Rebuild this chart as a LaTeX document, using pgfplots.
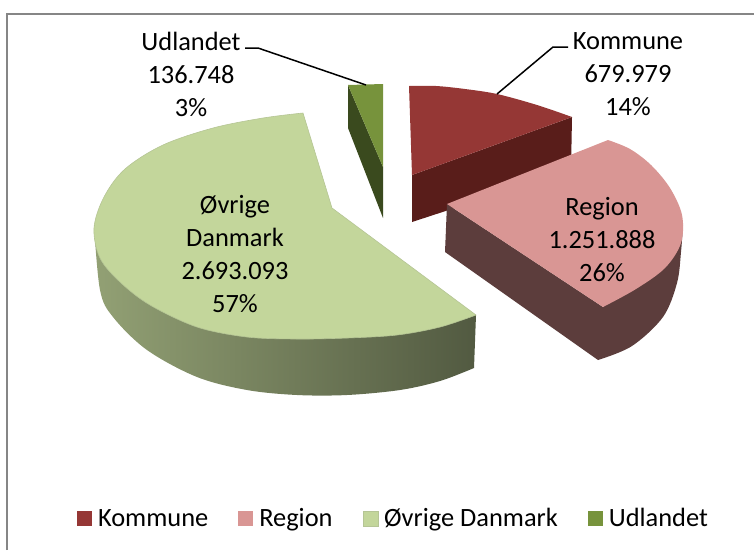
\documentclass[border=0pt]{standalone}
\usepackage{pgfplots}
\pgfplotsset{compat=1.18}
\usepackage{fontspec}
\setmainfont{Carlito}
\definecolor{kommune}{HTML}{953735}
\definecolor{kommuneside}{HTML}{591D1A}
\definecolor{region}{HTML}{D99694}
\definecolor{regionside}{HTML}{5C3D3C}
\definecolor{ovrige}{HTML}{C3D69B}
\definecolor{udland}{HTML}{77933C}
\definecolor{udlandside}{HTML}{3A4A1E}
\definecolor{frame}{HTML}{868686}
\begin{document}
\begin{tikzpicture}
\useasboundingbox (0,0) rectangle (754pt,550pt);
\begin{axis}[
  at={(0,0)}, anchor=south west,
  width=754pt, height=550pt, scale only axis,
  xmin=0, xmax=754, ymin=0, ymax=550,
  y dir=reverse,
  hide axis,
  clip=false,
  legend columns=-1,
  legend style={
    at={(axis cs:395.5,520)}, anchor=center,
    draw=none, fill=none,
    font=\fontsize{26.4}{30}\selectfont,
    inner sep=0pt,
    /tikz/every even column/.append style={column sep=24pt},
    nodes={inner xsep=6pt, text height=18pt, text depth=6pt},
  },
  legend image code/.code={
    \fill[#1] (0pt,-6pt) rectangle (15pt,9pt);
  },
  every axis plot/.append style={draw=none, tension=0.55},
]
% Kommune
\addplot[forget plot, fill=kommuneside] coordinates {
  (412,175) (572,117) (571,170) (412,222) (412,175)};
\addplot[smooth, fill=kommune] coordinates {
  (409,86) (436,86) (465,89) (497,94) (537,105) (572,117)} -- (axis cs:412,175) -- cycle;
% Region
\addplot[smooth, forget plot, fill=regionside] coordinates {
  (683,225) (681,252) (677,283) (663,317) (632,346) (598,360)}
  -- (axis cs:445,252) -- (axis cs:447,204) -- (axis cs:603,307) -- cycle;
\addplot[smooth, fill=region] coordinates {
  (608,140) (630,149) (651,165) (670,188) (682,215) (681,243) (665,268) (636,289) (603,307)} -- (axis cs:447,204) -- cycle;
% Ovrige Danmark
\addplot[smooth, forget plot, left color=ovrige!75!black, middle color=ovrige!50!black, right color=ovrige!42!black] coordinates {
  (94,225) (100,290) (113,317) (147,350) (197,377) (247,390) (297,395) (347,395) (400,390) (440,381) (474,368)}
  -- (axis cs:476,315) -- cycle;
\addplot[smooth, fill=ovrige, draw=ovrige!80!gray, line width=0.6pt] coordinates {
  (303,113) (263,118) (213,128) (163,145) (125,169) (104,197) (94,228) (100,258) (120,282) (150,305) (197,327) (247,337) (297,339) (347,338) (397,335) (440,327) (476,315)}
  -- (axis cs:332,208) -- cycle;
% Udlandet
\addplot[forget plot, fill=udlandside] coordinates {
  (348,85) (348,128) (383,218) (383,167) (348,85)};
\addplot[fill=udland] coordinates {
  (348,85) (383,84) (383,167) (348,85)};
\legend{Kommune,Region,Øvrige Danmark,Udlandet}

% chart frame
\draw[frame, line width=2pt] (axis cs:7,550) -- (axis cs:7,14) -- (axis cs:754,14);
% leader lines
\draw[black, line width=1.5pt] (axis cs:245,48) -- (axis cs:258,48) -- (axis cs:366,85);
\draw[black, line width=1.5pt] (axis cs:497,94) -- (axis cs:553,47) -- (axis cs:568,47);
% data labels
\tikzset{lab/.style={align=center, inner sep=0pt, font=\fontsize{26.4}{33}\selectfont}}
\node[lab] at (axis cs:191,74) {Udlandet\\136.748\\3\%};
\node[lab] at (axis cs:628,74) {Kommune\\679.979\\14\%};
\node[lab] at (axis cs:602,240) {Region\\1.251.888\\26\%};
\node[lab] at (axis cs:235,254) {Øvrige\\Danmark\\2.693.093\\57\%};
\end{axis}
\end{tikzpicture}
\end{document}
